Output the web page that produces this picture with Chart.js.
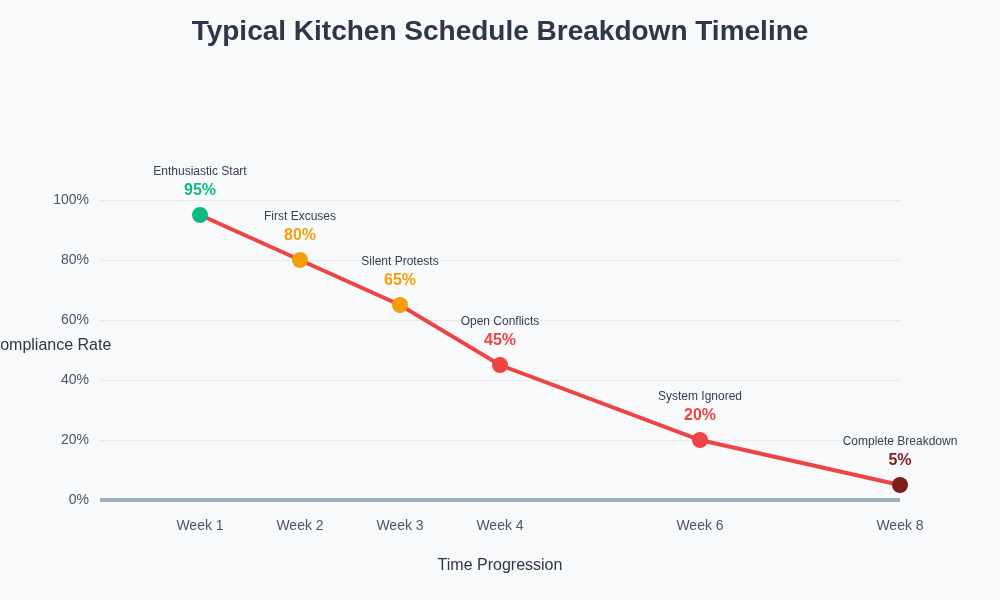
<!DOCTYPE html>
<html>
<head>
<meta charset="utf-8">
<title>Typical Kitchen Schedule Breakdown Timeline</title>
<script src="https://cdn.jsdelivr.net/npm/chart.js@4"></script>
<style>
  html, body { margin: 0; padding: 0; background: #f7f9fb; }
  #wrap { width: 1000px; height: 600px; }
</style>
</head>
<body>
<div id="wrap"><canvas id="chart-timeline"></canvas></div>
<script>
// data
var weeks = [1, 2, 3, 4, 6, 8];
var compliance = [95, 80, 65, 45, 20, 5];
var stageNames = ["Enthusiastic Start", "First Excuses", "Silent Protests", "Open Conflicts", "System Ignored", "Complete Breakdown"];
var pointColors = ["#10b981", "#f59e0b", "#f59e0b", "#ef4444", "#ef4444", "#7f1d1d"];
var yTicks = [0, 20, 40, 60, 80, 100];

var FONT = "'Liberation Sans', Arial, sans-serif";

// titles, axis line + point labels drawn by hand
var textPlugin = {
  id: "textPlugin",
  beforeDraw: function (chart) {
    var ctx = chart.ctx;
    ctx.save();
    ctx.fillStyle = "#f7f9fb";
    ctx.fillRect(0, 0, chart.width, chart.height);
    ctx.restore();
  },
  beforeDatasetsDraw: function (chart) {
    var ctx = chart.ctx;
    var area = chart.chartArea;
    ctx.save();
    ctx.strokeStyle = "#a0aec0";
    ctx.lineWidth = 4;
    ctx.lineCap = "butt";
    ctx.beginPath();
    ctx.moveTo(area.left, area.bottom);
    ctx.lineTo(area.right, area.bottom);
    ctx.stroke();
    ctx.restore();
  },
  afterDraw: function (chart) {
    var ctx = chart.ctx;
    ctx.save();
    ctx.textAlign = "center";
    ctx.textBaseline = "middle";

    ctx.fillStyle = "#2d3748";
    ctx.font = "bold 28px " + FONT;
    ctx.fillText("Typical Kitchen Schedule Breakdown Timeline", 500, 32);

    ctx.font = "16px " + FONT;
    ctx.fillText("Time Progression", 500, 566);
    ctx.fillText("Compliance Rate", 50, 346);

    var meta = chart.getDatasetMeta(0);
    meta.data.forEach(function (pt, i) {
      ctx.fillStyle = "#374151";
      ctx.font = "12px " + FONT;
      ctx.fillText(stageNames[i], pt.x, pt.y - 43);
      ctx.fillStyle = pointColors[i];
      ctx.font = "bold 16px " + FONT;
      ctx.fillText(compliance[i] + "%", pt.x, pt.y - 24);
    });
    ctx.restore();
  }
};

var points = weeks.map(function (w, i) {
  return { x: w, y: compliance[i] };
});

new Chart("chart-timeline", {
  type: "line",
  data: {
    datasets: [{
      data: points,
      borderColor: "#ef4444",
      borderWidth: 4,
      tension: 0,
      pointRadius: 8,
      pointHoverRadius: 8,
      pointBorderWidth: 0,
      pointBackgroundColor: pointColors,
      clip: false
    }]
  },
  options: {
    responsive: true,
    maintainAspectRatio: false,
    animation: false,
    layout: { padding: { top: 200, right: 100, left: 0, bottom: 0 } },
    plugins: {
      legend: { display: false },
      title: { display: false },
      tooltip: { enabled: false }
    },
    scales: {
      x: {
        type: "linear",
        min: 0,
        max: 8,
        afterFit: function (scale) { scale.height = 100; },
        afterBuildTicks: function (scale) {
          scale.ticks = weeks.map(function (w) { return { value: w }; });
        },
        grid: { display: false, drawTicks: false },
        border: { display: false },
        ticks: {
          padding: 18,
          color: "#4a5568",
          font: { family: FONT, size: 14 },
          callback: function (v) { return "Week " + v; }
        }
      },
      y: {
        min: 0,
        max: 100,
        afterFit: function (scale) { scale.width = 100; },
        afterBuildTicks: function (scale) {
          scale.ticks = yTicks.map(function (t) { return { value: t }; });
        },
        grid: { color: "#e6eaef", lineWidth: 1, drawTicks: false },
        border: { display: false },
        ticks: {
          padding: 11,
          color: "#4a5568",
          font: { family: FONT, size: 14 },
          callback: function (v) { return v + "%"; }
        }
      }
    }
  },
  plugins: [textPlugin]
});
</script>
</body>
</html>
